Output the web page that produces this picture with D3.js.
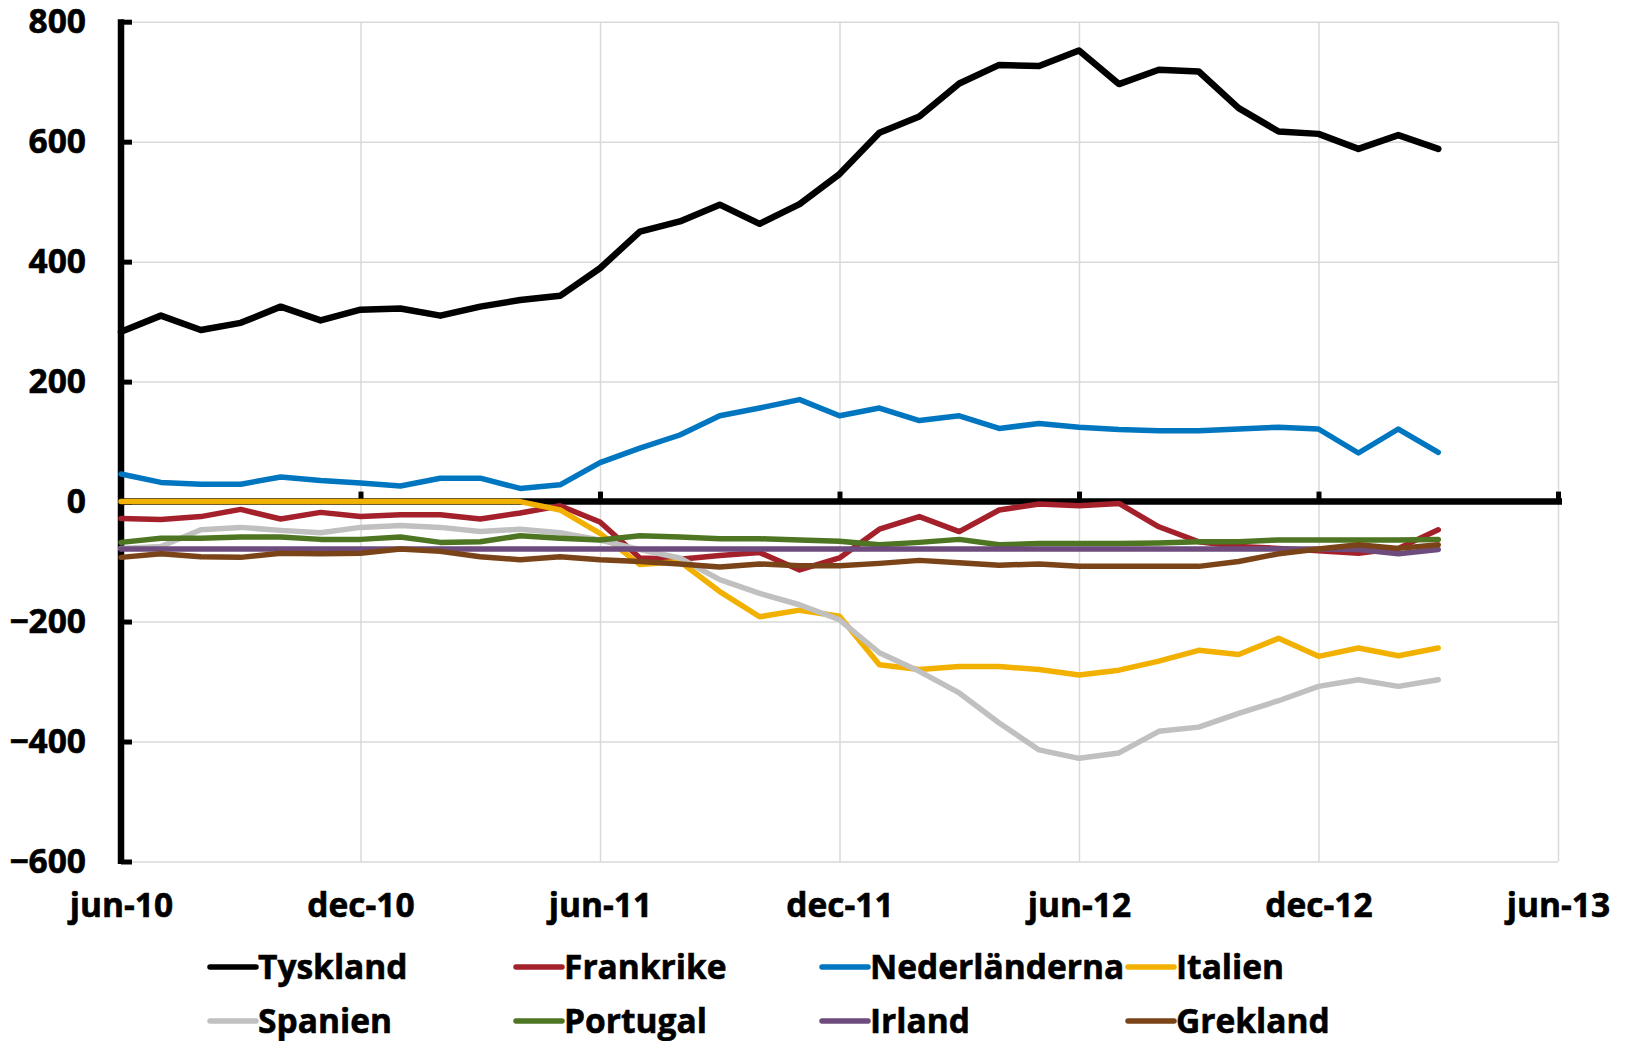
<!DOCTYPE html>
<html>
<head>
<meta charset="utf-8">
<script src="https://cdn.jsdelivr.net/npm/d3@7"></script>
<style>
  html, body { margin: 0; padding: 0; background: #fff; }
  svg { display: block; font-family: "Open Sans", "DejaVu Sans", sans-serif; font-weight: 700; }
</style>
</head>
<body>
<svg id="chart" width="1626" height="1041"></svg>
<script>
// ---- Data (monthly, jun-10 .. mar-13) ----
const xTickLabels = ["jun-10", "dec-10", "jun-11", "dec-11", "jun-12", "dec-12", "jun-13"];
const yTicks = [-600, -400, -200, 0, 200, 400, 600, 800];

const seriesNames = ["Tyskland", "Frankrike", "Nederländerna", "Italien", "Spanien", "Portugal", "Irland", "Grekland"];
const seriesColors = ["#000000", "#a4202a", "#0076c0", "#f2b100", "#c0c0c0", "#4e7522", "#6d4c7d", "#7b4418"];

const tyskland = [283, 310, 286, 298, 325, 302, 320, 322, 310, 325, 336, 343, 389, 450, 467, 495, 463, 496, 546, 615, 642, 697, 728, 726, 752, 696, 720, 717, 656, 617, 613, 588, 611, 588];
const frankrike = [-28, -30, -25, -13, -29, -18, -25, -22, -22, -29, -19, -7, -34, -94, -96, -90, -85, -114, -94, -46, -25, -50, -14, -4, -7, -3, -42, -67, -75, -78, -82, -86, -78, -47];
const nederlanderna = [46, 32, 29, 29, 41, 35, 31, 26, 39, 39, 22, 28, 65, 89, 111, 143, 156, 170, 143, 156, 135, 143, 122, 130, 124, 120, 118, 118, 121, 124, 121, 81, 121, 82];
const italien = [0, 0, 0, 0, 0, 0, 0, 0, 0, 0, 0, -14, -53, -105, -100, -150, -192, -181, -191, -272, -280, -275, -275, -280, -289, -281, -266, -248, -255, -228, -258, -244, -257, -244];
const spanien = [-78, -75, -47, -43, -48, -52, -43, -40, -43, -50, -46, -52, -64, -80, -94, -130, -153, -172, -197, -252, -283, -319, -369, -414, -428, -419, -383, -376, -353, -332, -308, -297, -308, -297];
const portugal = [-68, -61, -61, -59, -59, -63, -63, -59, -68, -67, -57, -61, -64, -57, -59, -62, -62, -64, -66, -72, -68, -63, -72, -70, -70, -70, -69, -67, -67, -64, -64, -64, -64, -63];
const irland = [-79, -79, -79, -79, -79, -79, -79, -79, -79, -79, -79, -79, -79, -79, -79, -79, -79, -79, -79, -79, -79, -79, -79, -79, -79, -79, -79, -79, -79, -79, -79, -80, -87, -80];
const grekland = [-93, -87, -92, -93, -86, -87, -86, -79, -83, -92, -97, -92, -97, -100, -104, -109, -104, -107, -107, -103, -98, -102, -106, -104, -108, -108, -108, -108, -100, -87, -79, -72, -78, -72];

const seriesValues = [tyskland, frankrike, nederlanderna, italien, spanien, portugal, irland, grekland];

// ---- Layout ----
const svg = d3.select("#chart");
const x0 = 121, x1 = 1558, yTop = 21.7, yBot = 861.5;
const monthsSpan = (xTickLabels.length - 1) * 6;
const FONT = 33.5;

const x = d3.scaleLinear().domain([0, monthsSpan]).range([x0, x1]);
const y = d3.scaleLinear().domain([-600, 800]).range([yBot, yTop]);
const tickMonths = xTickLabels.map((d, i) => i * 6);

// Gridlines
const grid = svg.append("g");
grid.append("g")
  .attr("transform", `translate(${x0},0)`)
  .call(d3.axisLeft(y).tickValues(yTicks).tickSize(-(x1 - x0)).tickFormat(""))
  .call(g => g.select(".domain").remove())
  .call(g => g.selectAll("line").attr("stroke", "#d9d9d9").attr("stroke-width", 1.5));
grid.append("g")
  .attr("transform", `translate(0,${yBot})`)
  .call(d3.axisBottom(x).tickValues(tickMonths).tickSize(-(yBot - yTop)).tickFormat(""))
  .call(g => g.select(".domain").remove())
  .call(g => g.selectAll("line").attr("stroke", "#d9d9d9").attr("stroke-width", 1.5));

// X axis line at zero with upward ticks
const xAxisG = svg.append("g")
  .attr("transform", `translate(0,${y(0)})`)
  .call(d3.axisBottom(x).tickValues(tickMonths).tickSizeInner(-10).tickSizeOuter(0).tickFormat(""));
xAxisG.select(".domain").attr("stroke", "#000").attr("stroke-width", 6.5)
  .attr("d", `M${x0},0H${x1 + 4}`);
xAxisG.selectAll(".tick line").attr("stroke", "#000").attr("stroke-width", 5);

// Y axis with inward ticks
const yAxisG = svg.append("g")
  .attr("transform", `translate(${x0},0)`)
  .call(d3.axisLeft(y).tickValues(yTicks).tickSizeInner(-11).tickSizeOuter(0).tickPadding(35));
yAxisG.select(".domain").attr("stroke", "#000").attr("stroke-width", 6.5)
  .attr("d", `M0,${yTop - 2.5}V${yBot + 2.5}`);
yAxisG.selectAll(".tick line").attr("stroke", "#000").attr("stroke-width", 5);
yAxisG.selectAll(".tick text").attr("font-size", FONT).attr("font-weight", 700)
  .attr("fill", "#000").attr("font-family", "'Open Sans', sans-serif")
  .attr("stroke", "#000").attr("stroke-width", 0.6);

// X labels at bottom
const xLab = svg.append("g")
  .attr("transform", `translate(0,${yBot})`)
  .call(d3.axisBottom(x).tickValues(tickMonths).tickSize(0).tickPadding(32)
    .tickFormat((d, i) => xTickLabels[i]));
xLab.select(".domain").remove();
xLab.selectAll(".tick text").attr("font-size", FONT).attr("font-weight", 700)
  .attr("fill", "#000").attr("font-family", "'Open Sans', sans-serif")
  .attr("stroke", "#000").attr("stroke-width", 0.6);

// Series lines
const line = d3.line().x((d, i) => x(i)).y(d => y(d));
const linesG = svg.append("g");
seriesValues.forEach((vals, si) => {
  linesG.append("path")
    .datum(vals)
    .attr("d", line)
    .attr("fill", "none")
    .attr("stroke", seriesColors[si])
    .attr("stroke-width", si === 0 ? 6.5 : 5.5)
    .attr("stroke-linejoin", "round")
    .attr("stroke-linecap", "round");
});

// Legend
const legendColX = [210, 516, 822, 1128];
const legendRowY = [967, 1021];
const legend = svg.append("g");
seriesNames.forEach((name, i) => {
  const cx = legendColX[i % 4], cy = legendRowY[Math.floor(i / 4)];
  const g = legend.append("g").attr("transform", `translate(${cx},${cy})`);
  g.append("line").attr("x1", 0).attr("x2", 46).attr("y1", 0).attr("y2", 0)
    .attr("stroke", seriesColors[i]).attr("stroke-width", 5.5).attr("stroke-linecap", "round");
  g.append("text").attr("x", 48).attr("y", 0).attr("dy", "0.36em")
    .attr("font-size", FONT).attr("font-weight", 700).attr("fill", "#000")
    .attr("stroke", "#000").attr("stroke-width", 0.6)
    .text(name);
});
</script>
</body>
</html>
